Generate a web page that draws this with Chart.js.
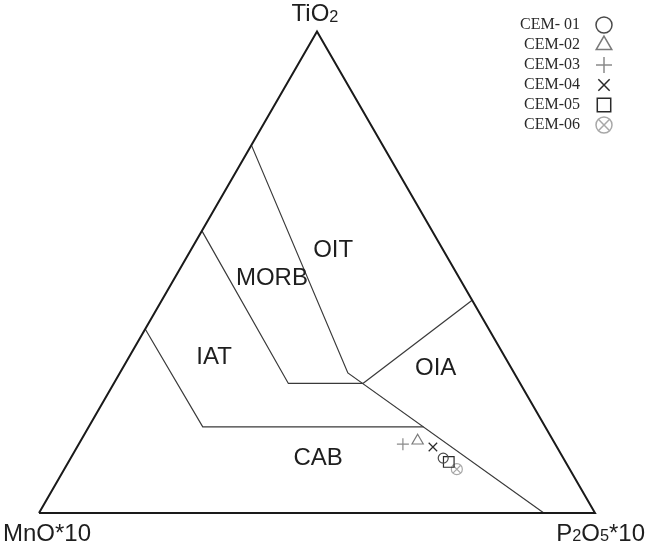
<!DOCTYPE html>
<html>
<head>
<meta charset="utf-8">
<script src="https://cdn.jsdelivr.net/npm/chart.js@4/dist/chart.umd.min.js"></script>
<style>
  html, body { margin: 0; padding: 0; background: #fff; }
  canvas { display: block; }
</style>
</head>
<body>
<canvas id="chart" width="650" height="546"></canvas>
<script>
// sample compositions, ternary % (MnO*10, TiO2, P2O5*10)
const samples = ["CEM- 01", "CEM-02", "CEM-03", "CEM-04", "CEM-05", "CEM-06"];
const mno = [21.6, 24.4, 27.4, 22.3, 21.0, 20.3];
const tio2 = [11.4, 15.0, 14.3, 13.7, 10.6, 9.1];
const p2o5 = [67.0, 60.6, 58.3, 64.0, 68.4, 70.6];

// field boundaries, each vertex as [MnO*10, TiO2, P2O5*10]
const frame = [[100, 0, 0], [0, 0, 100], [0, 100, 0], [100, 0, 0]];
const oitMorb = [[23.6, 76.4, 0], [29.9, 29.1, 41.0], [9.2, 0, 90.8]];
const morbIat = [[41.4, 58.6, 0], [41.7, 26.9, 31.4], [28.3, 26.9, 44.8]];
const oiaLine = [[28.3, 26.9, 44.8], [0, 44.2, 55.8]];
const iatCab = [[61.8, 38.2, 0], [61.6, 17.9, 20.5], [21.9, 17.9, 60.2]];

// field names and where they sit
const fieldNames = ["OIT", "MORB", "IAT", "OIA", "CAB"];
const fieldPos = [[19.8, 54.6, 25.6], [33.7, 48.8, 17.5], [52.3, 32.4, 15.3], [13.6, 30.1, 56.3], [44.1, 11.4, 44.5]];

const SQ3 = Math.sqrt(3) / 2;
function toXY(a, c, b) {
  const s = a + b + c;
  return { x: b / s + c / s / 2, y: (c / s) * SQ3 };
}
const path = (pts) => pts.map((p) => toXY(p[0], p[1], p[2]));

// marker look per sample (r = plot radius, lr = legend radius)
const styles = [
  { pointStyle: "circle", color: "#4a4a4a", r: 5, lr: 8 },
  { pointStyle: "triangle", color: "#7a7a7a", r: 6.5, lr: 9 },
  { pointStyle: "cross", color: "#8a8a8a", r: 6, lr: 8 },
  { pointStyle: "crossRot", color: "#2a2a2a", r: 6, lr: 8 },
  { pointStyle: "rect", color: "#2a2a2a", r: 7.5, lr: 9.5 },
  { pointStyle: "circle", color: "#a8a8a8", r: 5.5, lr: 8, extra: "crossRot" },
];

const lineSet = (pts, w, color) => ({
  type: "scatter",
  data: path(pts),
  showLine: true,
  borderColor: color,
  borderWidth: w,
  pointRadius: 0,
  fill: false,
  clip: false,
});

const datasets = [
  lineSet(frame, 2, "#1a1a1a"),
  lineSet(oitMorb, 1.2, "#3a3a3a"),
  lineSet(morbIat, 1.2, "#3a3a3a"),
  lineSet(oiaLine, 1.2, "#3a3a3a"),
  lineSet(iatCab, 1.2, "#3a3a3a"),
];

samples.forEach((name, i) => {
  const st = styles[i];
  const pt = [toXY(mno[i], tio2[i], p2o5[i])];
  datasets.push({
    type: "scatter",
    label: name,
    data: pt,
    pointStyle: st.pointStyle,
    pointRadius: st.r,
    borderColor: st.color,
    backgroundColor: "rgba(0,0,0,0)",
    pointBorderWidth: 1.2,
    clip: false,
  });
  if (st.extra) {
    datasets.push({
      type: "scatter",
      data: pt,
      pointStyle: st.extra,
      pointRadius: st.r,
      borderColor: st.color,
      pointBorderWidth: 1.2,
      clip: false,
    });
  }
});

function drawRich(ctx, parts, x, y, size, align) {
  // parts: [text, isSub]
  const widths = parts.map(([t, sub]) => {
    ctx.font = `${sub ? size * 0.68 : size}px "Liberation Sans", Arial, sans-serif`;
    return ctx.measureText(t).width;
  });
  const total = widths.reduce((s, w) => s + w, 0);
  let cx = align === "right" ? x - total : align === "center" ? x - total / 2 : x;
  ctx.textAlign = "left";
  ctx.textBaseline = "alphabetic";
  parts.forEach(([t, sub], k) => {
    ctx.font = `${sub ? size * 0.68 : size}px "Liberation Sans", Arial, sans-serif`;
    ctx.fillText(t, cx, sub ? y + size * 0.02 : y);
    cx += widths[k];
  });
}

const labelsPlugin = {
  id: "ternaryLabels",
  afterDatasetsDraw(chart) {
    const { ctx, scales } = chart;
    const px = (p) => ({ x: scales.x.getPixelForValue(p.x), y: scales.y.getPixelForValue(p.y) });
    ctx.save();
    ctx.fillStyle = "#1e1e1e";
    ctx.font = '24px "Liberation Sans", Arial, sans-serif';
    ctx.textAlign = "center";
    ctx.textBaseline = "middle";
    fieldNames.forEach((n, i) => {
      const p = px(toXY(fieldPos[i][0], fieldPos[i][1], fieldPos[i][2]));
      ctx.fillText(n, p.x, p.y);
    });

    const top = px(toXY(0, 100, 0));
    const left = px(toXY(100, 0, 0));
    const right = px(toXY(0, 0, 100));
    drawRich(ctx, [["TiO", false], ["2", true]], top.x - 2, top.y - 10, 24, "center");
    drawRich(ctx, [["MnO*10", false]], left.x - 36, left.y + 28, 24, "left");
    drawRich(ctx, [["P", false], ["2", true], ["O", false], ["5", true], ["*10", false]], right.x + 50, right.y + 28, 24, "right");

    // legend: names right-aligned, symbol on the right
    ctx.font = '16px "Liberation Serif", "Times New Roman", serif';
    ctx.textAlign = "right";
    ctx.textBaseline = "middle";
    samples.forEach((name, i) => {
      const y = 25 + i * 20;
      ctx.fillStyle = "#2a2a2a";
      ctx.fillText(name, 580, y);
      const st = styles[i];
      ctx.strokeStyle = st.color;
      ctx.fillStyle = "rgba(0,0,0,0)";
      ctx.lineWidth = 1.5;
      const opts = { pointStyle: st.pointStyle, radius: st.lr, rotation: 0, borderWidth: 1.5 };
      Chart.helpers.drawPoint(ctx, opts, 604, y);
      if (st.extra) Chart.helpers.drawPoint(ctx, { ...opts, pointStyle: st.extra }, 604, y);
    });
    ctx.restore();
  },
};

const W = 556; // triangle side in px
new Chart(document.getElementById("chart"), {
  type: "scatter",
  data: { datasets },
  options: {
    responsive: false,
    animation: false,
    layout: { padding: 0, autoPadding: false },
    plugins: { legend: { display: false }, tooltip: { enabled: false } },
    scales: {
      x: { type: "linear", display: false, min: -39 / W, max: 611 / W },
      y: { type: "linear", display: false, min: -33 / W, max: 513 / W },
    },
  },
  plugins: [labelsPlugin],
});
</script>
</body>
</html>
